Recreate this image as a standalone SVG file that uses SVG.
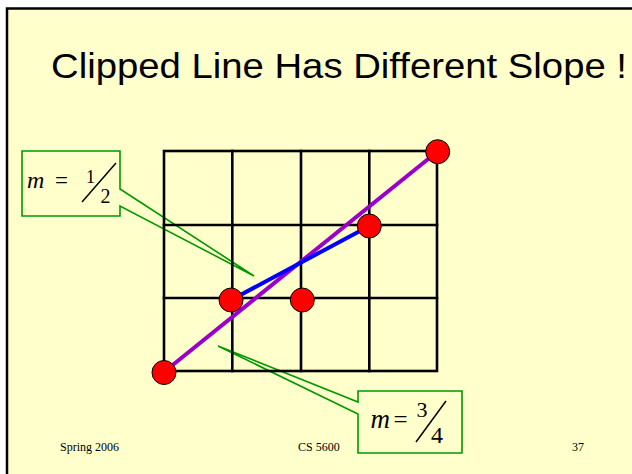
<svg xmlns="http://www.w3.org/2000/svg" width="632" height="474" viewBox="0 0 632 474">
<defs>
<linearGradient id="ul" x1="0" y1="0" x2="1" y2="0">
<stop offset="0" stop-color="#2a2a2a"/>
<stop offset="1" stop-color="#8a8a7a"/>
</linearGradient>
</defs>
<style>
.grid{stroke:#000;stroke-width:2.6;fill:none;stroke-linecap:square}
.callout{fill:#FFFFCC;stroke:#009900;stroke-width:1.6}
.pt{fill:#FF0000;stroke:#000;stroke-width:1}
.math{font-family:"Liberation Serif",serif;fill:#000}
.foot{font-family:"Liberation Serif",serif;font-size:12px;fill:#000}
.frac{stroke:#000;stroke-width:1.5}
</style>
<rect x="0" y="0" width="632" height="474" fill="#FFFFFF"/>
<rect x="7" y="8.5" width="700" height="600" fill="#FFFFCC" stroke="#000" stroke-width="2.5"/>
<text x="51" y="78" font-family="'Liberation Sans',Arial,sans-serif" font-size="35" textLength="576" lengthAdjust="spacingAndGlyphs" fill="#000">Clipped Line Has Different Slope !</text>
<line x1="113" y1="98" x2="547" y2="98" stroke="url(#ul)" stroke-width="2"/>
<g id="callout-half">
<path class="callout" d="M22,151 H120 V189 L254,276 L120,206 V216 H22 Z"/>
<text class="math" x="27" y="188" font-size="24" font-style="italic">m</text>
<text class="math" x="55" y="188" font-size="23">=</text>
<text class="math" x="86" y="182.5" font-size="18">1</text>
<line class="frac" x1="82" y1="202" x2="116" y2="163"/>
<text class="math" x="100.5" y="202.5" font-size="20">2</text>
</g>
<g id="callout-threequarter">
<path class="callout" d="M358,391 H462 V453 H358 V414 L218,346 L358,402 Z"/>
<text class="math" x="370.5" y="427.5" font-size="27" font-style="italic">m</text>
<text class="math" x="393.5" y="427.5" font-size="25">=</text>
<text class="math" x="416.5" y="416.5" font-size="22">3</text>
<line class="frac" x1="416" y1="442" x2="446" y2="401"/>
<text class="math" x="431" y="442.5" font-size="24">4</text>
</g>
<g id="grid">
<rect class="grid" x="164" y="151" width="273" height="220"/>
<line class="grid" x1="232.3" y1="151" x2="232.3" y2="371"/>
<line class="grid" x1="301" y1="151" x2="301" y2="371"/>
<line class="grid" x1="369.3" y1="151" x2="369.3" y2="371"/>
<line class="grid" x1="164" y1="225" x2="437" y2="225"/>
<line class="grid" x1="164" y1="298" x2="437" y2="298"/>
</g>
<g id="connectors">
<line x1="164" y1="372" x2="437.5" y2="151.5" stroke="#9900CC" stroke-width="4"/>
<line x1="231" y1="300" x2="369.3" y2="226" stroke="#0000FF" stroke-width="4"/>
</g>
<g id="points">
<circle class="pt" cx="164" cy="372.5" r="12"/>
<circle class="pt" cx="437.7" cy="151.7" r="12"/>
<circle class="pt" cx="369.3" cy="226" r="12"/>
<circle class="pt" cx="231" cy="300" r="12"/>
<circle class="pt" cx="302.3" cy="300" r="12"/>
</g>
<g id="footer">
<text class="foot" x="60" y="451">Spring 2006</text>
<text class="foot" x="298" y="451">CS 5600</text>
<text class="foot" x="572" y="451">37</text>
</g>
</svg>
